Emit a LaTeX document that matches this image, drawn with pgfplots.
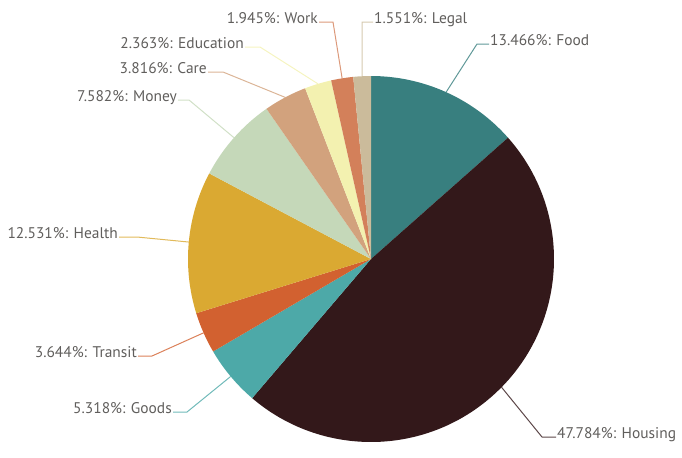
\documentclass[border=0pt]{standalone}
\usepackage{fontspec}
\setmainfont{PT Sans}
\usepackage{pgfplots}
\usepackage{pgfplotstable}
\pgfplotsset{compat=1.18}

\definecolor{cFood}{HTML}{387F7F}
\definecolor{cHousing}{HTML}{33181A}
\definecolor{cGoods}{HTML}{4DA9A8}
\definecolor{cTransit}{HTML}{D26130}
\definecolor{cHealth}{HTML}{DAA932}
\definecolor{cMoney}{HTML}{C5D8B9}
\definecolor{cCare}{HTML}{D2A27D}
\definecolor{cEducation}{HTML}{F3F1B0}
\definecolor{cWork}{HTML}{D3805A}
\definecolor{cLegal}{HTML}{CBBB9B}
\definecolor{txt}{HTML}{605E5C}

% share in percent, colour, leader elbow (ex,ey), label x and side
\pgfplotstableread[col sep=comma]{
name,value,col,ex,ey,lx,anc
Food,13.466,cFood,477,44,489,base west
Housing,47.784,cHousing,542,437,556,base west
Goods,5.318,cGoods,187,412,173,base east
Transit,3.644,cTransit,152,356,138,base east
Health,12.531,cHealth,137,237,119,base east
Money,7.582,cMoney,189,100,178,base east
Care,3.816,cCare,223,72,208,base east
Education,2.363,cEducation,260,47,245,base east
Work,1.945,cWork,333,22,319,base east
Legal,1.551,cLegal,362,22,373,base west
}\piedata

\begin{document}
\begin{tikzpicture}
\begin{axis}[
  scale only axis, width=682bp, height=444bp,
  xmin=0, xmax=682, ymin=0, ymax=444, y dir=reverse,
  hide axis, clip=false,
]
\addplot[draw=none] coordinates {(0,0) (682,444)};
\path (rel axis cs:0,0) rectangle (rel axis cs:1,1);
\pgfplotsextra{
  \xdef\cum{0}
  \foreach \i in {0,...,9}{
    \pgfplotstablegetelem{\i}{value}\of\piedata \let\v\pgfplotsretval
    \pgfplotstablegetelem{\i}{name}\of\piedata \let\n\pgfplotsretval
    \pgfplotstablegetelem{\i}{col}\of\piedata \let\c\pgfplotsretval
    \pgfplotstablegetelem{\i}{ex}\of\piedata \let\ex\pgfplotsretval
    \pgfplotstablegetelem{\i}{ey}\of\piedata \let\ey\pgfplotsretval
    \pgfplotstablegetelem{\i}{lx}\of\piedata \let\lx\pgfplotsretval
    \pgfplotstablegetelem{\i}{anc}\of\piedata \let\anc\pgfplotsretval
    \pgfmathsetmacro\aone{90-3.6*\cum}
    \pgfmathsetmacro\atwo{90-3.6*(\cum+\v)}
    \pgfmathsetmacro\amid{(\aone+\atwo)/2}
    \fill[fill=\c] (axis cs:371,259) -- ++(\aone:183bp)
      arc[start angle=\aone, end angle=\atwo, radius=183bp] -- cycle;
    \draw[draw=\c, line width=1bp, opacity=0.8]
      (axis cs:371,259) ++(\amid:183bp) -- (axis cs:\ex,\ey) -- (axis cs:\lx,\ey);
    \node[anchor=\anc, text=txt, inner sep=1bp, font=\fontsize{15.5}{17}\selectfont]
      at (axis cs:\lx,\ey+1.5) {\v\%: \n};
    \pgfmathsetmacro\newcum{\cum+\v}
    \xdef\cum{\newcum}
  }
}
\end{axis}
\end{tikzpicture}
\end{document}
